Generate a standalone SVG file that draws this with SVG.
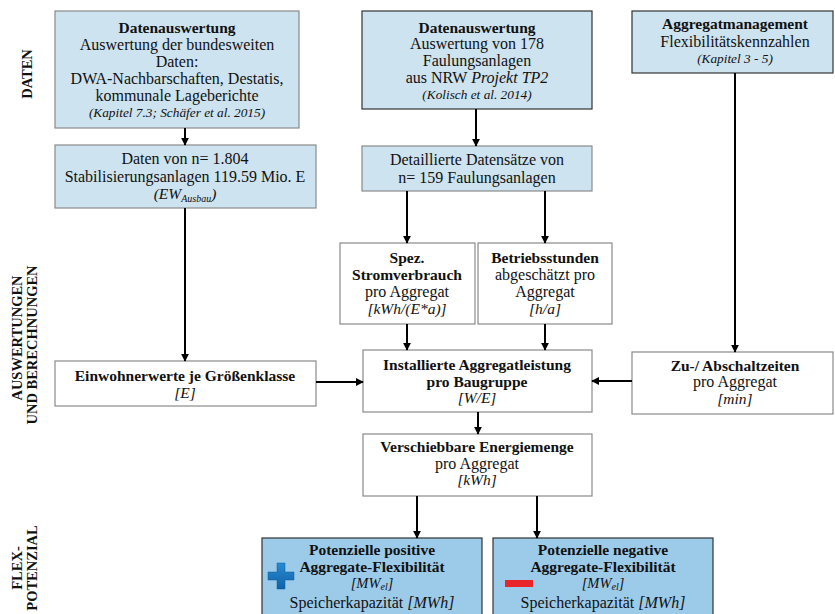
<svg xmlns="http://www.w3.org/2000/svg" width="835" height="614" viewBox="0 0 835 614">
  <style>
    text { font-family: "Liberation Serif", "DejaVu Serif", serif; fill: #111; text-anchor: middle; }
    .t { font-size: 16px; }
    .b { font-size: 15.5px; font-weight: bold; }
    .i { font-size: 13.3px; font-style: italic; }
    .u { font-size: 15.5px; font-style: italic; }
    .uf { font-size: 14.5px; font-style: italic; }
    .sub { font-size: 10px; font-style: italic; }
    .sec { font-size: 14.5px; font-weight: bold; }
    .light { fill: #cde3ef; stroke: #8a8a8a; stroke-width: 1.2; }
    .lightd { fill: #cde3ef; stroke: #333; stroke-width: 1.2; }
    .white { fill: #fff; stroke: #8a8a8a; stroke-width: 1.2; }
    .flex { fill: #9ccbea; stroke: #333; stroke-width: 1.2; }
    .conn path { fill: none; stroke: #000; stroke-width: 2; marker-end: url(#arrow); }
  </style>
  <defs>
    <marker id="arrow" viewBox="0 0 10 10" refX="9" refY="5" markerWidth="4" markerHeight="4" orient="auto" markerUnits="strokeWidth">
      <path d="M0,0 L10,5 L0,10 Z" fill="#000"/>
    </marker>
    <linearGradient id="plusGrad" x1="0" y1="0" x2="0" y2="1">
      <stop offset="0" stop-color="#2a8ad0"/>
      <stop offset="1" stop-color="#0f63a8"/>
    </linearGradient>
  </defs>

  <!-- section labels -->
  <g id="sections">
    <text class="sec" transform="translate(32,74) rotate(-90)">DATEN</text>
    <text class="sec" transform="translate(22,338) rotate(-90)">AUSWERTUNGEN</text>
    <text class="sec" transform="translate(37,345) rotate(-90)">UND BERECHNUNGEN</text>
    <text class="sec" transform="translate(22,568) rotate(-90)">FLEX-</text>
    <text class="sec" transform="translate(37,568) rotate(-90)">POTENZIAL</text>
  </g>

  <!-- data sources -->
  <g id="n_datenauswertung_bund">
    <rect class="light" x="55" y="11" width="244" height="117"/>
    <text class="b" x="177" y="33">Datenauswertung</text>
    <text class="t" x="177" y="50">Auswertung der bundesweiten</text>
    <text class="t" x="177" y="67">Daten:</text>
    <text class="t" x="177" y="84">DWA-Nachbarschaften, Destatis,</text>
    <text class="t" x="177" y="101">kommunale Lageberichte</text>
    <text class="i" x="177" y="117">(Kapitel 7.3; Schäfer et al. 2015)</text>
  </g>

  <g id="n_datenauswertung_nrw">
    <rect class="lightd" x="362" y="11" width="230" height="98"/>
    <text class="b" x="477" y="33">Datenauswertung</text>
    <text class="t" x="477" y="49">Auswertung von 178</text>
    <text class="t" x="477" y="66">Faulungsanlagen</text>
    <text class="t" x="477" y="83"><tspan>aus NRW </tspan><tspan font-style="italic">Projekt TP2</tspan></text>
    <text class="i" x="477" y="99">(Kolisch et al. 2014)</text>
  </g>

  <g id="n_aggregatmanagement">
    <rect class="lightd" x="632" y="11" width="201" height="62"/>
    <text class="b" x="735" y="29">Aggregatmanagement</text>
    <text class="t" x="735" y="47">Flexibilitätskennzahlen</text>
    <text class="i" x="735" y="63">(Kapitel 3 - 5)</text>
  </g>

  <g id="n_daten_1804">
    <rect class="light" x="55" y="145" width="261" height="63"/>
    <text class="t" x="185" y="164">Daten von n= 1.804</text>
    <text class="t" x="185" y="182">Stabilisierungsanlagen 119.59 Mio. E</text>
    <text class="u" x="185" y="199">(EW<tspan class="sub" dy="3">Ausbau</tspan><tspan dy="-3">)</tspan></text>
  </g>

  <g id="n_datensaetze_159">
    <rect class="light" x="362" y="146" width="230" height="45"/>
    <text class="t" x="477" y="165">Detaillierte Datensätze von</text>
    <text class="t" x="477" y="183">n= 159 Faulungsanlagen</text>
  </g>

  <!-- evaluations -->
  <g id="n_stromverbrauch">
    <rect class="white" x="340" y="243" width="135" height="81"/>
    <text class="b" x="407" y="263">Spez.</text>
    <text class="b" x="407" y="280">Stromverbrauch</text>
    <text class="t" x="407" y="297">pro Aggregat</text>
    <text class="u" x="407" y="314">[kWh/(E*a)]</text>
  </g>

  <g id="n_betriebsstunden">
    <rect class="white" x="478" y="243" width="134" height="81"/>
    <text class="b" x="545" y="263">Betriebsstunden</text>
    <text class="t" x="545" y="280">abgeschätzt pro</text>
    <text class="t" x="545" y="297">Aggregat</text>
    <text class="u" x="545" y="314">[h/a]</text>
  </g>

  <g id="n_einwohnerwerte">
    <rect class="white" x="55" y="361" width="261" height="45"/>
    <text class="b" x="185" y="381">Einwohnerwerte je Größenklasse</text>
    <text class="u" x="185" y="398">[E]</text>
  </g>

  <g id="n_aggregatleistung">
    <rect class="white" x="363" y="350" width="229" height="62"/>
    <text class="b" x="477" y="370">Installierte Aggregatleistung</text>
    <text class="b" x="477" y="387">pro Baugruppe</text>
    <text class="u" x="477" y="403">[W/E]</text>
  </g>

  <g id="n_schaltzeiten">
    <rect class="white" x="632" y="352" width="201" height="62"/>
    <text class="b" x="735" y="371">Zu-/ Abschaltzeiten</text>
    <text class="t" x="735" y="387">pro Aggregat</text>
    <text class="u" x="735" y="404">[min]</text>
  </g>

  <g id="n_energiemenge">
    <rect class="white" x="363" y="434" width="229" height="62"/>
    <text class="b" x="477" y="452">Verschiebbare Energiemenge</text>
    <text class="t" x="477" y="469">pro Aggregat</text>
    <text class="u" x="477" y="485">[kWh]</text>
  </g>

  <!-- flexibility potential -->
  <g id="n_positiv">
    <rect class="flex" x="262" y="538" width="220" height="80"/>
    <path d="M277,563 h8 v9 h9 v8 h-9 v9 h-8 v-9 h-9 v-8 h9 z" fill="url(#plusGrad)" stroke="#0d5a99" stroke-width="0.5"/>
    <text class="b" x="372" y="555">Potenzielle positive</text>
    <text class="b" x="372" y="572">Aggregate-Flexibilität</text>
    <text class="uf" x="372" y="588">[MW<tspan class="sub" dy="2">el</tspan><tspan dy="-2">]</tspan></text>
    <text class="t" x="372" y="608">Speicherkapazität <tspan font-style="italic">[MWh]</tspan></text>
  </g>

  <g id="n_negativ">
    <rect class="flex" x="493" y="538" width="220" height="80"/>
    <rect x="505" y="580" width="28" height="7" fill="#e8262a"/>
    <text class="b" x="603" y="555">Potenzielle negative</text>
    <text class="b" x="603" y="572">Aggregate-Flexibilität</text>
    <text class="uf" x="603" y="588">[MW<tspan class="sub" dy="2">el</tspan><tspan dy="-2">]</tspan></text>
    <text class="t" x="603" y="608">Speicherkapazität <tspan font-style="italic">[MWh]</tspan></text>
  </g>

  <!-- connectors -->
  <g id="connectors" class="conn">
    <path d="M185,128 V145"/>
    <path d="M476,109 V146"/>
    <path d="M407,191 V243"/>
    <path d="M545,191 V243"/>
    <path d="M185,208 V361"/>
    <path d="M735,73 V352"/>
    <path d="M407,324 V350"/>
    <path d="M545,324 V350"/>
    <path d="M316,382 H363"/>
    <path d="M632,381 H592"/>
    <path d="M478,412 V434"/>
    <path d="M417,496 V538"/>
    <path d="M537,496 V538"/>
  </g>
</svg>
